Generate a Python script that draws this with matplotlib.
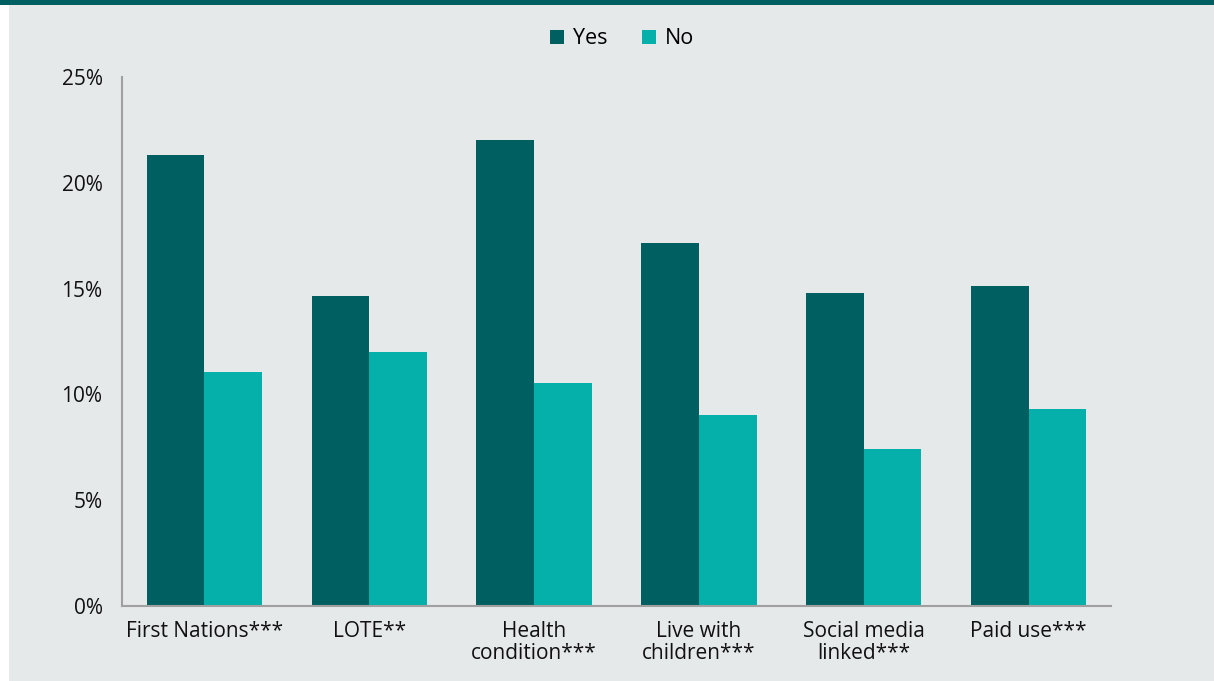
import matplotlib.pyplot as plt
import matplotlib.patches as mpatches
import numpy as np

# chart data
categories = ['First Nations***', 'LOTE**', 'Health\ncondition***',
              'Live with\nchildren***', 'Social media\nlinked***', 'Paid use***']
yes_vals = [21.3, 14.65, 22.0, 17.15, 14.8, 15.1]
no_vals = [11.05, 12.0, 10.55, 9.05, 7.4, 9.3]
y_ticks = [0, 5, 10, 15, 20, 25]

dark_teal = '#005F61'
light_teal = '#05AFAA'
panel = '#E6E9EA'

plt.rcParams['font.family'] = ['Open Sans', 'DejaVu Sans']

fig = plt.figure(figsize=(12.14, 6.81), dpi=100)
fig.patch.set_facecolor('white')

# grey panel and teal strip at the top, kept behind the axes
fig.patches.append(mpatches.Rectangle((9 / 1214, 0), 1 - 9 / 1214, 1 - 5 / 681,
                                      transform=fig.transFigure, facecolor=panel,
                                      edgecolor='none', zorder=-10))
fig.patches.append(mpatches.Rectangle((0, 1 - 5 / 681), 1, 5 / 681,
                                      transform=fig.transFigure, facecolor=dark_teal,
                                      edgecolor='none', zorder=-10))

ax = fig.add_axes([122 / 1214, 1 - 606 / 681, (1111 - 122) / 1214, (606 - 77) / 681])
ax.set_facecolor('none')

x = np.arange(len(categories))
w = 0.35
ax.bar(x - w / 2, yes_vals, w, color=dark_teal, label='Yes')
ax.bar(x + w / 2, no_vals, w, color=light_teal, label='No')

ax.set_xlim(-0.5, len(categories) - 0.5)
ax.set_ylim(0, 25)
ax.set_yticks(y_ticks)
ax.set_yticklabels([f'{t}%' for t in y_ticks])
ax.set_xticks(x)
ax.set_xticklabels(categories, linespacing=1.05)

ax.tick_params(axis='both', length=0, labelsize=15, colors='#111111')
ax.tick_params(axis='y', pad=14)
ax.tick_params(axis='x', pad=11)

for s in ['top', 'right']:
    ax.spines[s].set_visible(False)
for s in ['left', 'bottom']:
    ax.spines[s].set_color('#A0A0A0')
    ax.spines[s].set_linewidth(1.5)

leg = fig.legend(loc='center', bbox_to_anchor=(622 / 1214, 1 - 39 / 681), ncol=2,
                 frameon=False, fontsize=15.5, handlelength=0.65, handleheight=0.65,
                 handletextpad=0.4, columnspacing=1.6)

fig.savefig('out.png', dpi=100, facecolor=fig.get_facecolor())
